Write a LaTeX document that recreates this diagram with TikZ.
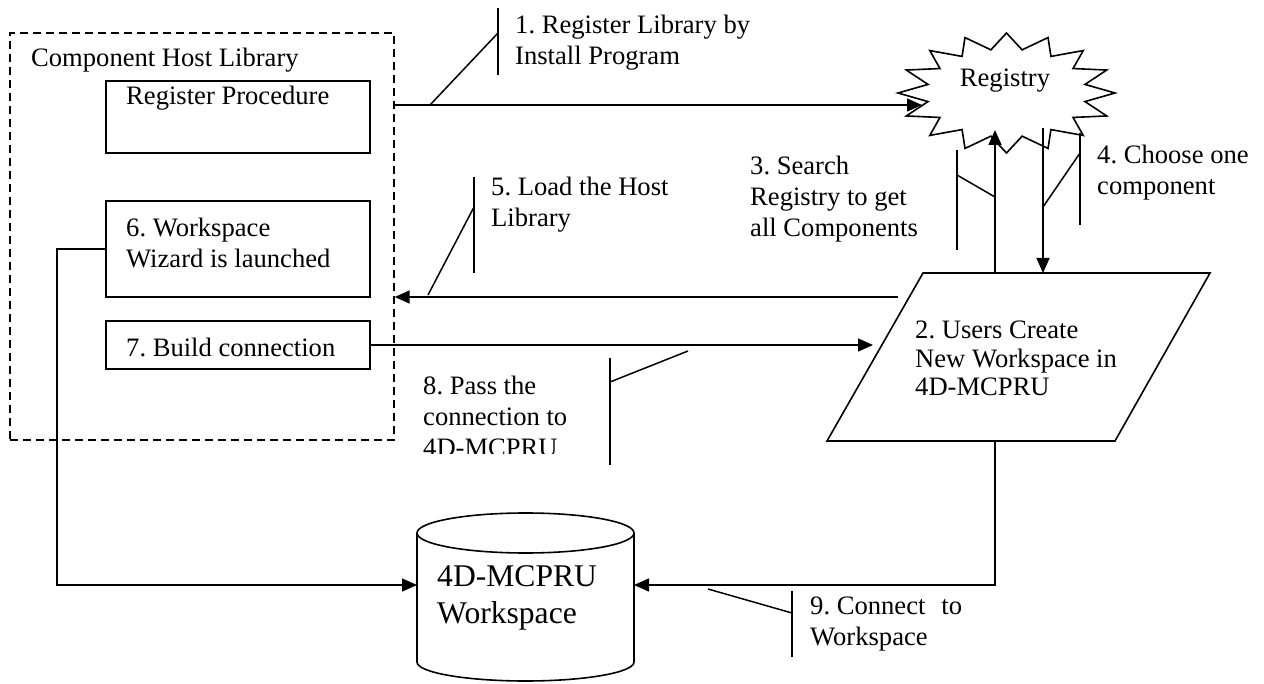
\documentclass[tikz,border=0pt]{standalone}
\usepackage{fontspec}
\setmainfont{Liberation Serif}
\usetikzlibrary{arrows.meta}
\frenchspacing
\begin{document}
\begin{tikzpicture}[x=1pt,y=-1pt,
  ln/.style={line width=1.6pt},
  arr/.style={line width=1.6pt,-{Triangle[length=15pt,width=13pt]}},
  co/.style={line width=1.5pt},
  boxst/.style={draw,line width=1.6pt,minimum width=264pt,inner sep=0pt},
  txt/.style={anchor=west,align=left,inner sep=0pt,font=\fontsize{26.6}{31}\selectfont},
  bigtxt/.style={anchor=west,align=left,inner sep=0pt,font=\fontsize{31.6}{37}\selectfont}]
\path[fill=white] (0,0) rectangle (1264,684);
\useasboundingbox (0,0) rectangle (1264,684);

% Component host library (dashed)
\node[draw,line width=1.4pt,dash pattern=on 8pt off 5pt,minimum width=384pt,minimum height=407pt,inner sep=0pt] (host) at (202,236.5) {};
\node[txt] (hosttitle) at (31,60) {Component Host Library};

% inner boxes
\node[boxst,minimum height=72pt] (rp) at (238,117) {};
\node[txt] (rptxt) at (126,98) {Register Procedure};
\node[boxst,minimum height=96pt] (b6) at (238,249) {};
\node[txt] (b6txt) at (126,242.5) {6. Workspace\\Wizard is launched};
\node[boxst,minimum height=48pt] (b7) at (238,345) {};
\node[txt] (b7txt) at (126,347) {7. Build connection};

% Registry star (16 points)
\coordinate (reg) at (1006.5,93);
\draw[ln,line join=miter] plot[samples at={0,...,31}] ({1006.5+ifthenelse(mod(\x,2)==0,108.5,80)*cos(\x*11.25)},{93-ifthenelse(mod(\x,2)==0,60,44)*sin(\x*11.25)}) -- cycle;
\node[txt,anchor=center] (regtxt) at (1005,81) {Registry};
\coordinate (regW) at (922,105);
\coordinate (regS1) at (995,130);
\coordinate (regS2) at (1043,128);

% Parallelogram
\draw[ln,line join=miter] (923,273) -- (1210,273) -- (1115,441) -- (827,441) -- cycle;
\node[txt,font=\fontsize{26.6}{28.5}\selectfont] (para) at (915,358.5) {2. Users Create\\New Workspace in\\4D-MCPRU};
\coordinate (paraT1) at (995,273);
\coordinate (paraT2) at (1043,273);
\coordinate (paraW1) at (898,297);
\coordinate (paraW2) at (873,345);
\coordinate (paraB) at (995,441);

% Cylinder
\draw[ln] (417,533) -- (417,662) arc[start angle=180,end angle=0,x radius=108.5,y radius=19] -- (634,533);
\draw[ln] (525.5,533) ellipse[x radius=108.5,y radius=20];
\node[bigtxt] (cyl) at (437,598) {4D-MCPRU\\Workspace};
\coordinate (cylL) at (417,585);
\coordinate (cylR) at (634,585);

% Connectors
\draw[arr] (host.east |- regW) -- (regW);
\draw[arr] (paraT1) -- (regS1);
\draw[arr] (regS2) -- (paraT2);
\draw[arr] (paraW1) -- (host.east |- paraW1);
\draw[arr] (b7.east) -- (paraW2);
\draw[arr] (b6.west) -- ++(-48,0) |- (cylL);
\draw[arr] (paraB) |- (cylR);

% Callout 1
\draw[co] (430,105) -- (498,33);
\draw[co] (498,8) -- (498,75);
\node[txt] (t1) at (515,42.5) {1. Register Library by\\Install Program};

% Callout 3
\draw[co] (995,197) -- (957,175);
\draw[co] (957,150) -- (957,250);
\node[txt] (t3) at (750,199) {3. Search\\Registry to get\\all Components};

% Callout 4
\draw[co] (1043,207) -- (1080,153);
\draw[co] (1080,133) -- (1080,225);
\node[txt] (t4) at (1097,172.5) {4. Choose one\\component};

% Callout 5
\draw[co] (428,295) -- (474,207);
\draw[co] (474,177) -- (474,273);
\node[txt] (t5) at (491,205) {5. Load the Host\\Library};

% Callout 8
\draw[co] (688,351) -- (610,382);
\draw[co] (610,358) -- (610,465);
\begin{scope}
\clip (400,360) rectangle (605,453);
\node[txt] (t8) at (423,416) {8. Pass the\\connection to\\4D-MCPRU};
\end{scope}

% Callout 9
\draw[co] (708,589) -- (792,613);
\draw[co] (792,591) -- (792,657);
\node[txt] (t9) at (810,624.5) {9. Connect\hspace{0.6em}to\\Workspace};
\end{tikzpicture}
\end{document}
